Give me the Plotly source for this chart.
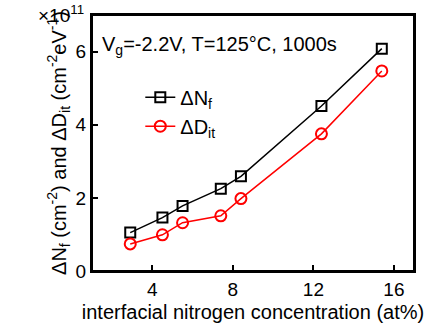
import plotly.graph_objects as go

x_nf = [2.9, 4.5, 5.5, 7.4, 8.4, 12.4, 15.4]
y_nf = [1.05, 1.46, 1.78, 2.25, 2.59, 4.51, 6.08]
x_dit = [2.9, 4.5, 5.5, 7.4, 8.4, 12.4, 15.4]
y_dit = [0.74, 0.99, 1.32, 1.51, 1.98, 3.75, 5.47]

x_major = [4, 8, 12, 16]
y_major = [0, 2, 4, 6]
x_minor = [2, 6, 10, 14]
y_minor = [1, 3, 5, 7]
x_range = [1, 17]
y_range = [0, 7]

font = "Liberation Sans, Arial, sans-serif"

fig = go.Figure()
fig.add_trace(go.Scatter(
    x=x_nf, y=y_nf, mode="lines+markers", name="ΔN<sub>f</sub>",
    line=dict(color="black", width=1.5),
    marker=dict(symbol="square-open", size=10, color="black", line=dict(width=2)),
))
fig.add_trace(go.Scatter(
    x=x_dit, y=y_dit, mode="lines+markers", name="ΔD<sub>it</sub>",
    line=dict(color="red", width=1.5),
    marker=dict(symbol="circle-open", size=11, color="red", line=dict(width=2)),
))

tick_common = dict(
    ticks="inside", ticklen=6, tickwidth=1.5, tickcolor="black",
    showgrid=False, zeroline=False, showline=True, linecolor="black", linewidth=2,
    mirror=True, layer="above traces",
    tickfont=dict(family=font, size=19, color="black"),
)
minor_common = dict(
    ticks="inside", ticklen=3, tickwidth=1.5, tickcolor="black",
    showgrid=False, zeroline=False, showline=False, showticklabels=False,
    mirror="allticks",
)

fig.update_layout(
    xaxis=dict(
        range=x_range, tickmode="array", tickvals=x_major,
        title=dict(text="interfacial nitrogen concentration (at%)",
                   font=dict(family=font, size=20, color="black"), standoff=6),
        **tick_common,
    ),
    yaxis=dict(
        range=y_range, tickmode="array", tickvals=y_major,
        title=dict(text="ΔN<sub>f</sub> (cm<sup>-2</sup>) and ΔD<sub>it</sub> (cm<sup>-2</sup>eV<sup>-1</sup>)",
                   font=dict(family=font, size=20, color="black"), standoff=4),
        **tick_common,
    ),
    xaxis2=dict(range=x_range, tickmode="array", tickvals=x_minor,
                overlaying="x", anchor="y", side="bottom", **minor_common),
    yaxis2=dict(range=y_range, tickmode="array", tickvals=y_minor,
                overlaying="y", anchor="x", side="left", **minor_common),
)

fig.add_shape(type="rect", xref="paper", yref="paper", x0=0, y0=0, x1=1, y1=1,
              line=dict(color="black", width=2), fillcolor="rgba(0,0,0,0)", layer="above")

fig.add_annotation(
    text="×10<sup>11</sup>", xref="paper", yref="paper", x=0, y=1,
    xanchor="right", yanchor="bottom", xshift=-6, yshift=-13, showarrow=False,
    font=dict(family=font, size=19, color="black"),
)
fig.add_annotation(
    text="V<sub>g</sub>=-2.2V, T=125°C, 1000s", xref="paper", yref="paper",
    x=0.025, y=0.88, xanchor="left", yanchor="middle", showarrow=False,
    font=dict(family=font, size=20, color="black"),
)

fig.update_layout(
    width=430, height=332,
    margin=dict(l=92, r=16, t=15, b=58),
    paper_bgcolor="white", plot_bgcolor="white",
    showlegend=True,
    legend=dict(x=0.15, y=0.755, xanchor="left", yanchor="top",
                bgcolor="rgba(0,0,0,0)", font=dict(family=font, size=20, color="black"),
                tracegroupgap=0),
)

fig.write_html(
    "out.html",
    config={"displayModeBar": False},
    post_script="document.body.style.margin='0';document.body.style.overflow='hidden';",
)
